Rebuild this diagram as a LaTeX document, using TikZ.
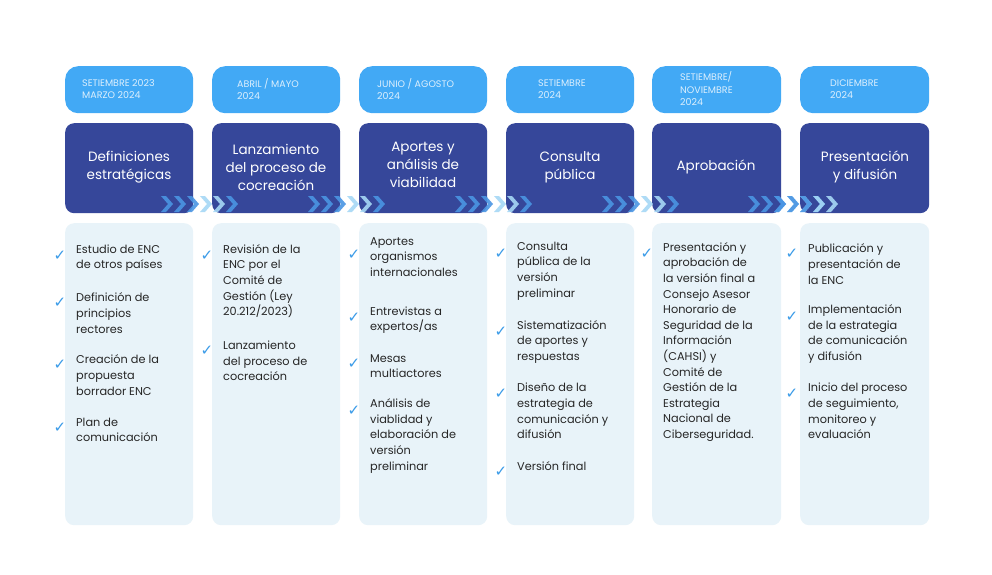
\documentclass[tikz,border=0pt]{standalone}
\usepackage{fontspec}
\setmainfont{Poppins}
\newfontfamily\dejafont{DejaVu Sans}
\definecolor{pillc}{HTML}{42A9F5}
\definecolor{pilltx}{HTML}{DCEFFD}
\definecolor{darkc}{HTML}{36479A}
\definecolor{lightc}{HTML}{E8F3F9}
\definecolor{chkc}{HTML}{3A9BE8}
\definecolor{chevA}{HTML}{4A95E3}
\definecolor{chevB}{HTML}{A6D8F6}
\begin{document}
\begin{tikzpicture}[x=1pt,y=-1pt,
 pill/.style={fill=pillc,rounded corners=13pt,minimum width=128pt,minimum height=47pt,anchor=north west,inner sep=0pt},
 pilltext/.style={anchor=west,text=pilltx,font=\fontsize{9.5}{12.5}\selectfont,align=left,inner sep=0pt},
 head/.style={fill=darkc,rounded corners=9pt,minimum width=128pt,minimum height=90pt,anchor=north west,inner sep=0pt},
 headtext/.style={text=white,font=\fontsize{13.5}{18}\selectfont,align=center,inner sep=0pt},
 body/.style={fill=lightc,rounded corners=9pt,minimum width=128pt,minimum height=302pt,anchor=north west,inner sep=0pt},
 item/.style={anchor=west,font=\fontsize{11.3}{15.6}\selectfont,align=left,inner sep=0pt,text=black!85},
 chk/.style={text=chkc,font=\dejafont\fontsize{15}{15}\selectfont,inner sep=0pt}]
\useasboundingbox (0,0) rectangle (992,574);
\fill[white] (0,0) rectangle (992,574);
\foreach \x/\n/\w in {65/1/128,212/2/128,359/3/128,506/4/128,652/5/129,800/6/129}{
 \node[pill,minimum width=\w pt] (p\n) at (\x,66) {};
 \node[head,minimum width=\w pt] (h\n) at (\x,123) {};
 \node[body,minimum width=\w pt] (b\n) at (\x,223) {};
}
\foreach \x/\n in {65/1,212/2,359/3,506/4,652/5}{
 \foreach \i/\c in {0/chevA,1/chevA,2/chevA,3/chevB,4/chevB,5/chevA}{
  \fill[\c,opacity=0.9] ({\x+96+\i*13},196) -- ++(5,0) -- ++(7,8) -- ++(-7,8) -- ++(-5,0) -- ++(7,-8) -- cycle;
 }
}
\foreach \x/\n in {762/6}{
 \foreach \i/\c in {0/chevA,1/chevA,2/chevA,3/chevB,4/chevB}{
  \fill[\c,opacity=0.9] ({\x+12+\i*13},196) -- ++(5,0) -- ++(7,8) -- ++(-7,8) -- ++(-5,0) -- ++(7,-8) -- cycle;
 }
}
% pills
\node[pilltext] (pt1) at (82,89) {SETIEMBRE 2023\\MARZO 2024};
\node[pilltext] (pt2) at (237,89) {ABRIL / MAYO\\2024};
\node[pilltext] (pt3) at (377,89) {JUNIO / AGOSTO\\2024};
\node[pilltext] (pt4) at (538,89) {SETIEMBRE\\2024};
\node[pilltext] (pt5) at (680,89) {SETIEMBRE/\\NOVIEMBRE\\2024};
\node[pilltext] (pt6) at (830,89) {DICIEMBRE\\2024};
% heads
\node[headtext] (ht1) at (129,167) {Definiciones\\estratégicas};
\node[headtext] (ht2) at (276,167) {Lanzamiento\\del proceso de\\cocreación};
\node[headtext] (ht3) at (423,165) {Aportes y\\análisis de\\viabilidad};
\node[headtext] (ht4) at (570,167) {Consulta\\pública};
\node[headtext] (ht5) at (716,167) {Aprobación};
\node[headtext] (ht6) at (865,167) {Presentación\\y difusión};
% items
\newcommand\itm[4]{\node[chk] at (#1-16,#2+6) {✓};\node[item] at (#1,#2+#3) {#4};}
\itm{76}{250}{8}{Estudio de ENC\\de otros países}
\itm{76}{297}{16}{Definición de\\principios\\rectores}
\itm{76}{359}{16}{Creación de la\\propuesta\\borrador ENC}
\itm{76}{422}{8}{Plan de\\comunicación}
\itm{223}{250}{31}{Revisión de la\\ENC por el\\Comité de\\Gestión (Ley\\20.212/2023)}
\itm{223}{345}{16}{Lanzamiento\\del proceso de\\cocreación}
\itm{370}{249}{8}{Aportes\\organismos\\internacionales}
\itm{370}{312}{8}{Entrevistas a\\expertos/as}
\itm{370}{358}{8}{Mesas\\multiactores}
\itm{370}{405}{31}{Análisis de\\viablidad y\\elaboración de\\versión\\preliminar}
\itm{517}{248}{23}{Consulta\\pública de la\\versión\\preliminar}
\itm{517}{326}{16}{Sistematización\\de aportes y\\respuestas}
\itm{517}{388}{23}{Diseño de la\\estrategia de\\comunicación y\\difusión}
\itm{517}{466}{0}{Versión final}
\itm{663}{248}{94}{Presentación y\\aprobación de\\la versión final a\\Consejo Asesor\\Honorario de\\Seguridad de la\\Información\\(CAHSI) y\\Comité de\\Gestión de la\\Estrategia\\Nacional de\\Ciberseguridad.}
\itm{808}{248}{16}{Publicación y\\presentación de\\la ENC}
\itm{808}{311}{23}{Implementación\\de la estrategia\\de comunicación\\y difusión}
\itm{808}{388}{23}{Inicio del proceso\\de seguimiento,\\monitoreo y\\evaluación}
\end{tikzpicture}
\end{document}
